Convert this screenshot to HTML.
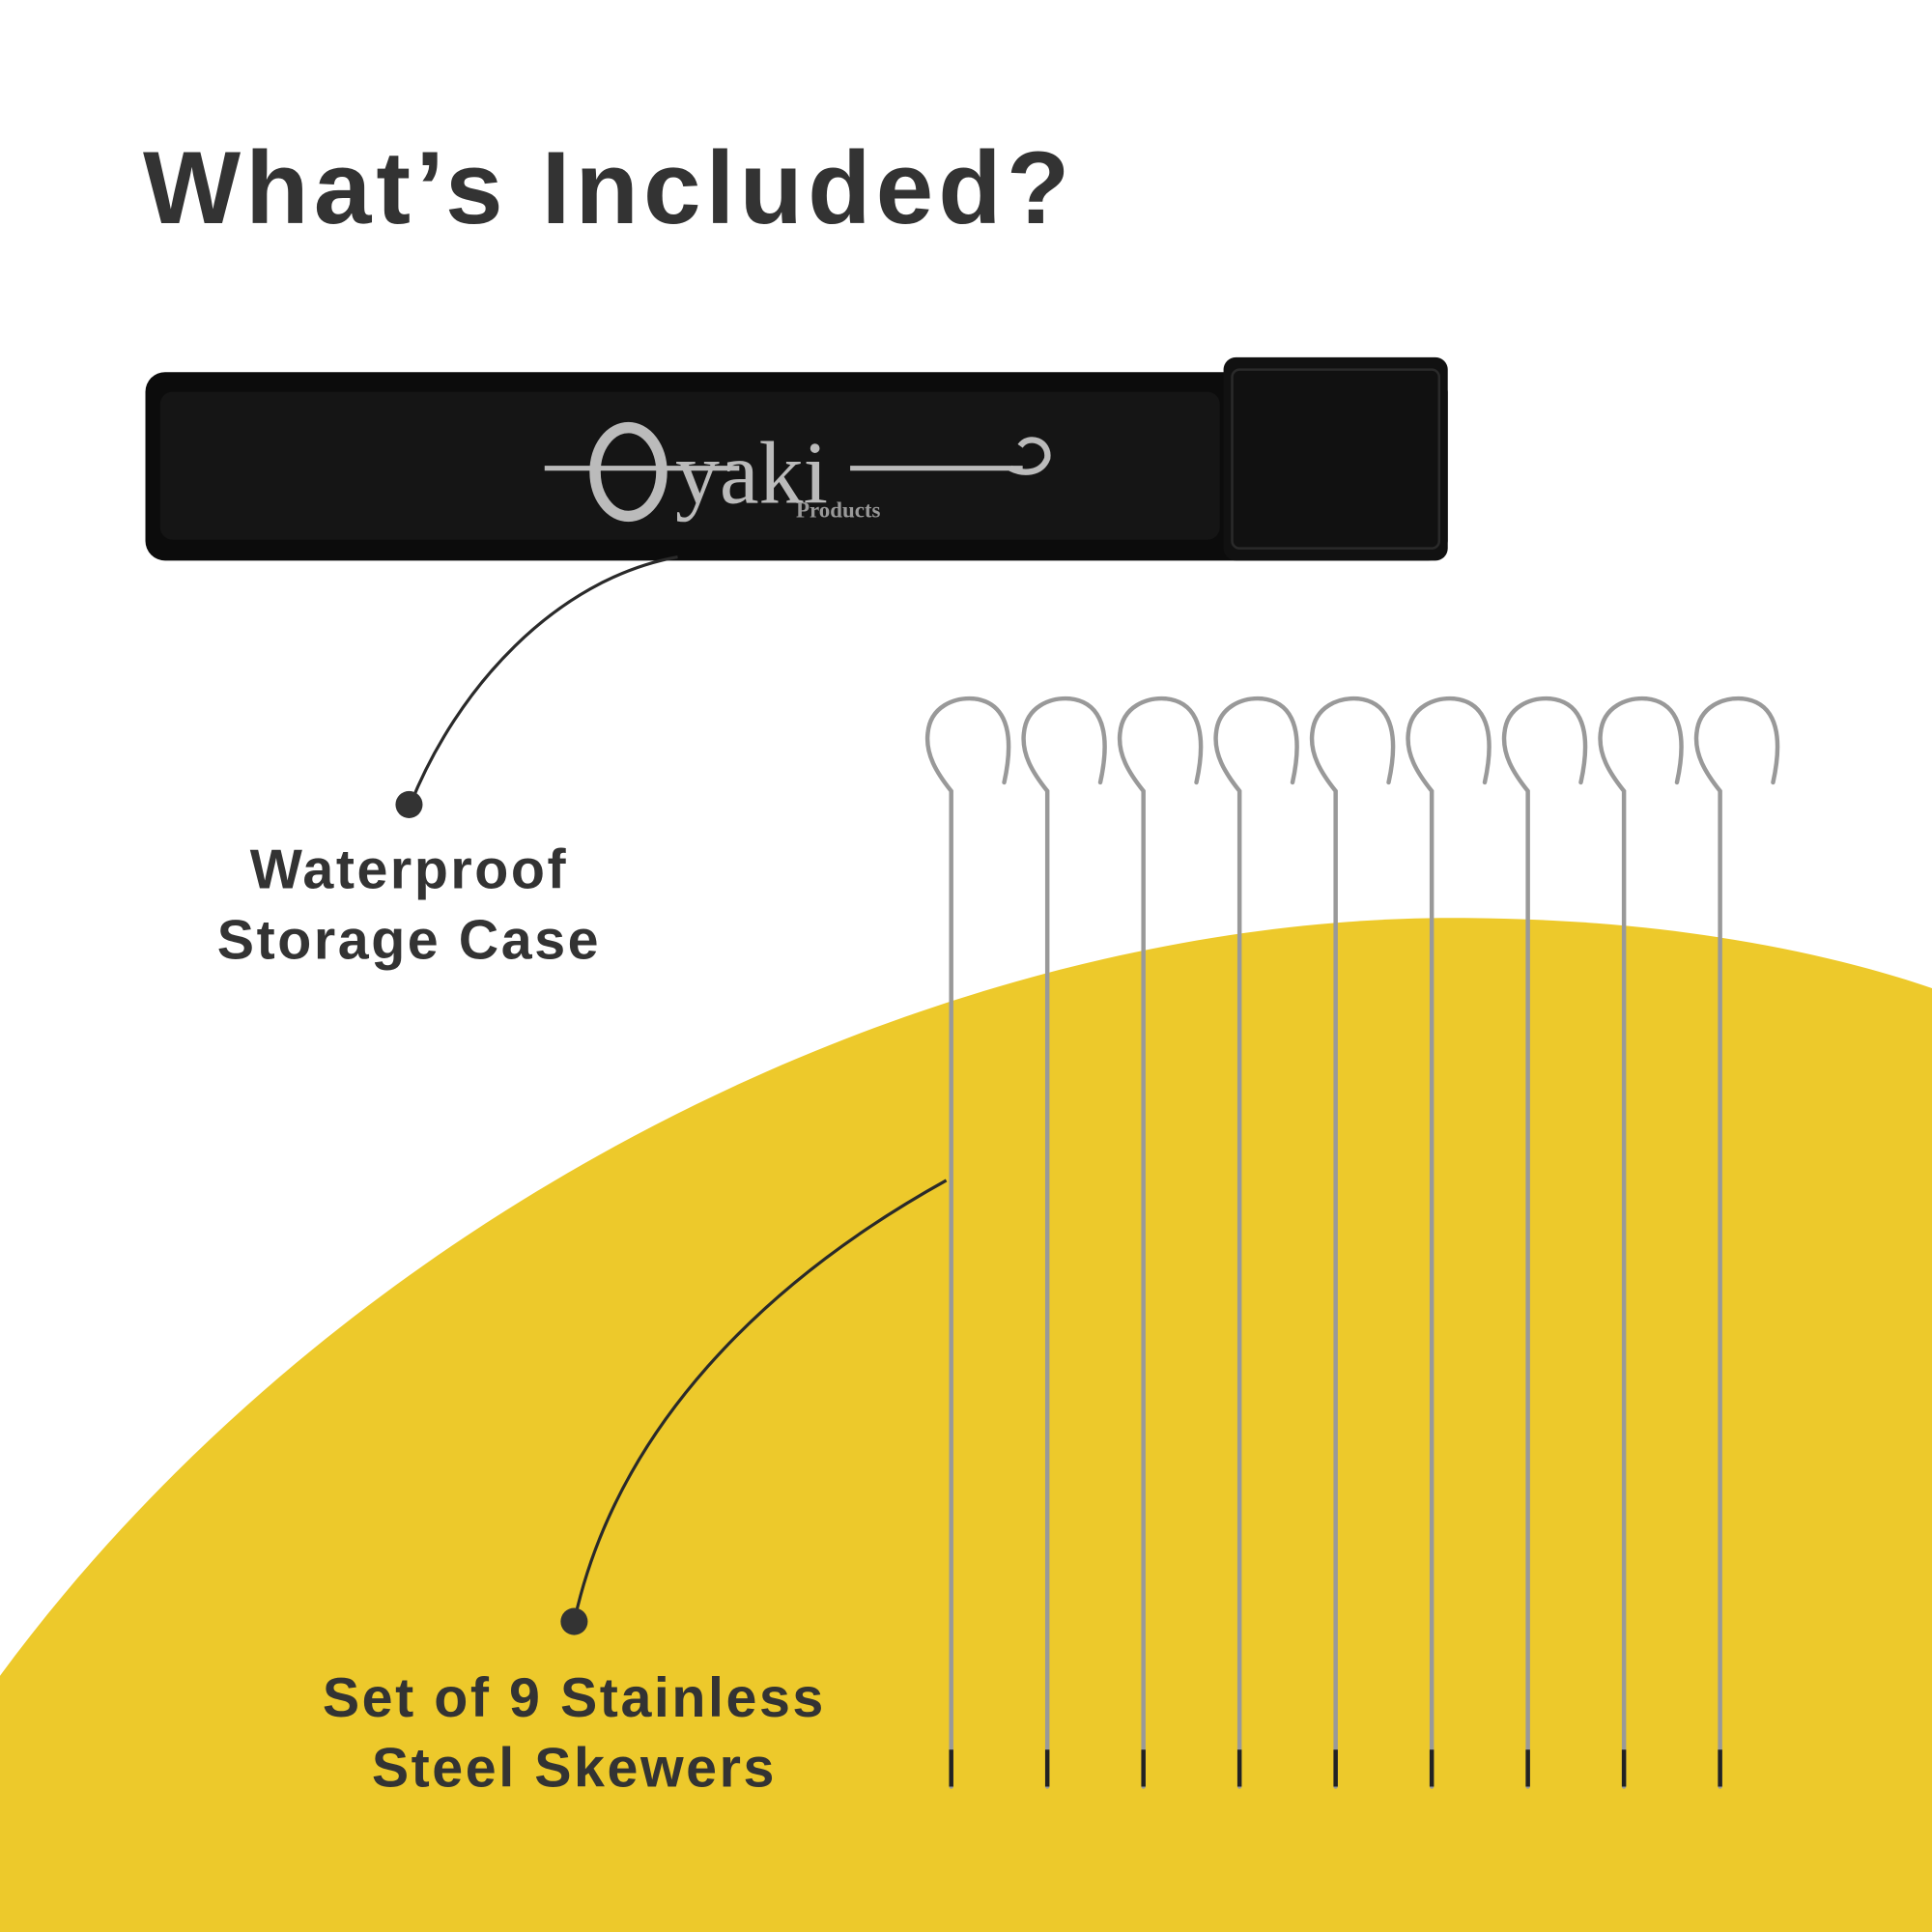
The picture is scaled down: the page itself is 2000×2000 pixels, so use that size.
<!DOCTYPE html>
<html><head><meta charset="utf-8"><style>html,body{margin:0;padding:0;background:#fff}svg{display:block}</style></head>
<body>
<svg width="2000" height="2000" viewBox="0 0 1568 1568" xmlns="http://www.w3.org/2000/svg">
<rect width="1568" height="1568" fill="#fff"/>
<path d="M0,1360 C280,980 760,745 1180,745 C1350,745 1480,772 1568,802 L1568,1568 L0,1568 Z" fill="#EDC92B"/>
<text x="116" y="181" font-family="Liberation Sans, sans-serif" font-weight="bold" font-size="84" fill="#333" letter-spacing="4">What’s Included?</text>
<!-- case -->
<rect x="118" y="302" width="1057" height="153" rx="16" fill="#0c0c0c"/>
<rect x="993" y="290" width="182" height="165" rx="10" fill="#111"/>
<rect x="1000" y="300" width="168" height="145" rx="6" fill="none" stroke="#2a2a2a" stroke-width="2"/>
<rect x="130" y="318" width="860" height="120" rx="10" fill="#151515"/>
<ellipse cx="510" cy="383" rx="27" ry="36" fill="none" stroke="#bbb" stroke-width="9"/>
<line x1="442" y1="380" x2="600" y2="380" stroke="#bbb" stroke-width="4"/>
<text x="548" y="408" font-family="Liberation Serif, serif" font-size="72" fill="#bbb">yaki</text>
<line x1="690" y1="380" x2="830" y2="380" stroke="#bbb" stroke-width="4"/>
<path d="M820,380 C830,385 845,385 850,372 C852,358 835,352 828,362" fill="none" stroke="#bbb" stroke-width="5"/>
<text x="646" y="420" font-family="Liberation Serif, serif" font-weight="bold" font-size="18" fill="#999">Products</text>
<!-- connector 1 -->
<path d="M550,452 C450,470 370,560 333,653" fill="none" stroke="#2a2a2a" stroke-width="2.5"/>
<circle cx="332" cy="653" r="11" fill="#333"/>
<g font-family="Liberation Sans, sans-serif" font-weight="bold" font-size="45" fill="#333" text-anchor="middle" letter-spacing="2">
<text x="332" y="721">Waterproof</text>
<text x="332" y="778">Storage Case</text>
<text x="466" y="1393">Set of 9 Stainless</text>
<text x="466" y="1450">Steel Skewers</text>
</g>
<!-- skewers -->
<g fill="none" stroke="#999" stroke-width="3.5" stroke-linecap="round">
<path id="sk" d="M772,1450 L772,650 L772,642 C760,627 751,612 753,595 C755,573 775,566 790,567 C810,569 826,585 815,635"/>
<use href="#sk" x="78"/><use href="#sk" x="156"/><use href="#sk" x="234"/><use href="#sk" x="312"/><use href="#sk" x="390"/><use href="#sk" x="468"/><use href="#sk" x="546"/><use href="#sk" x="624"/>
</g>
<g stroke="#222" stroke-width="3.5">
<line x1="772" y1="1420" x2="772" y2="1450"/><line x1="850" y1="1420" x2="850" y2="1450"/><line x1="928" y1="1420" x2="928" y2="1450"/><line x1="1006" y1="1420" x2="1006" y2="1450"/><line x1="1084" y1="1420" x2="1084" y2="1450"/><line x1="1162" y1="1420" x2="1162" y2="1450"/><line x1="1240" y1="1420" x2="1240" y2="1450"/><line x1="1318" y1="1420" x2="1318" y2="1450"/><line x1="1396" y1="1420" x2="1396" y2="1450"/>
</g>
<!-- connector 2 -->
<path d="M768,958 C620,1040 500,1160 466,1316" fill="none" stroke="#2a2a2a" stroke-width="2.5"/>
<circle cx="466" cy="1316" r="11" fill="#333"/>
</svg>
</body></html>
